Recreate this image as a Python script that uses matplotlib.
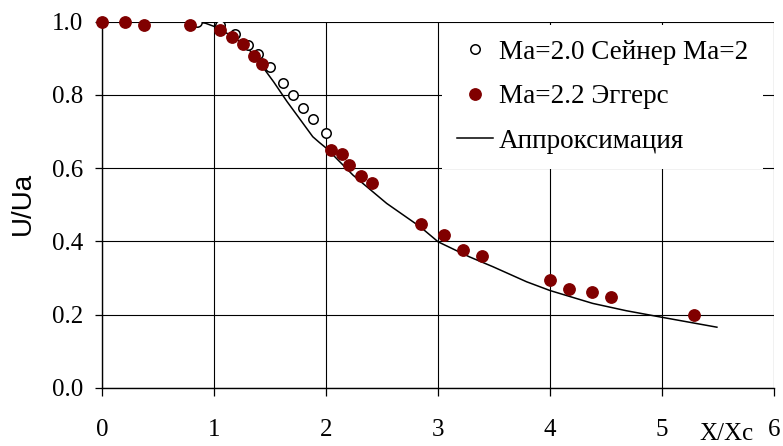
import matplotlib
matplotlib.use("Agg")
import matplotlib.pyplot as plt

# Sainer, Ma=2.0 (open circles)
sainer_x = [0.848, 1.05, 1.185, 1.30, 1.39, 1.50, 1.61, 1.705, 1.795, 1.884, 1.995]
sainer_y = [1.0, 0.99, 0.966, 0.936, 0.912, 0.877, 0.833, 0.799, 0.765, 0.735, 0.695]

# Eggers, Ma=2.2 (filled circles)
eggers_x = [0.0, 0.203, 0.372, 0.783, 1.05, 1.155, 1.253, 1.355, 1.423, 2.04, 2.137,
            2.205, 2.307, 2.405, 2.848, 3.054, 3.22, 3.393, 4.0, 4.17, 4.372, 4.545, 5.289]
eggers_y = [1.0, 1.0, 0.99, 0.99, 0.978, 0.959, 0.939, 0.905, 0.885, 0.649, 0.638,
            0.610, 0.578, 0.559, 0.449, 0.419, 0.378, 0.360, 0.294, 0.269, 0.262, 0.249, 0.199]

# Approximation curve
approx_x = [0.83, 0.92, 1.0, 1.17, 1.29, 1.41, 1.53, 1.65, 1.77, 1.88, 1.94, 2.0, 2.24,
            2.54, 2.84, 3.0, 3.28, 3.49, 3.79, 4.0, 4.38, 4.68, 5.0, 5.49]
approx_y = [1.0, 0.996, 0.987, 0.959, 0.932, 0.886, 0.836, 0.782, 0.732, 0.686, 0.670, 0.655, 0.581,
            0.504, 0.440, 0.399, 0.358, 0.331, 0.290, 0.266, 0.231, 0.211, 0.193, 0.166]

labels = ["Ma=2.0 Сейнер Ma=2", "Ma=2.2 Эггерс", "Аппроксимация"]
x_ticks = [0, 1, 2, 3, 4, 5, 6]
y_ticks = [0.0, 0.2, 0.4, 0.6, 0.8, 1.0]

W, H = 783, 446
fig = plt.figure(figsize=(W / 100, H / 100), dpi=100)
ax = fig.add_axes([102.3 / W, 1 - 388 / H, (774 - 102.3) / W, (388 - 21.7) / H])

serif = "Liberation Serif"
sans = "Liberation Sans"

ln, = ax.plot(approx_x, approx_y, color="black", lw=1.1, zorder=3)
so, = ax.plot(sainer_x, sainer_y, "o", mfc="white", mec="black", mew=1.1, ms=6.8,
              linestyle="none", zorder=4)
eg, = ax.plot(eggers_x, eggers_y, "o", mfc="#800000", mec="#800000", ms=8.2,
              linestyle="none", zorder=5, clip_on=False)

ax.set_xlim(0, 6)
ax.set_ylim(0, 1.0)
ax.set_xticks(x_ticks)
ax.set_yticks(y_ticks)
ax.set_xticklabels([str(v) for v in x_ticks], fontfamily=serif, fontsize=18)
ax.set_yticklabels([f"{v:.1f}" for v in y_ticks], fontfamily=serif, fontsize=18)
ax.tick_params(axis="x", direction="out", length=6, width=0.9, pad=16)
ax.tick_params(axis="y", direction="out", length=5, width=0.9, pad=9)
ax.grid(True, color="black", lw=0.8)
ax.set_axisbelow(True)
for s in ["top", "right"]:
    ax.spines[s].set_visible(False)
for s in ["left", "bottom"]:
    ax.spines[s].set_linewidth(1.0)

fig.text(22.5 / W, 1 - 203 / H, "U/Ua", rotation=90, fontfamily=sans, fontsize=20,
         ha="center", va="center")
fig.text(726.7 / W, 1 - 440 / H, "X/Xc", fontfamily=serif, fontsize=18,
         ha="center", va="baseline")

leg = ax.legend([so, eg, ln], labels, loc="upper right",
                bbox_to_anchor=(763 / W, 1 - 25 / H), bbox_transform=fig.transFigure,
                prop={"family": serif, "size": 19.5}, frameon=True, fancybox=False,
                edgecolor="none", facecolor="white", framealpha=1.0,
                borderaxespad=0, borderpad=0.55, handlelength=1.33, handletextpad=0.22,
                labelspacing=0.72, markerscale=1.0)
leg.set_zorder(10)

fig.savefig("out.png", dpi=100)
